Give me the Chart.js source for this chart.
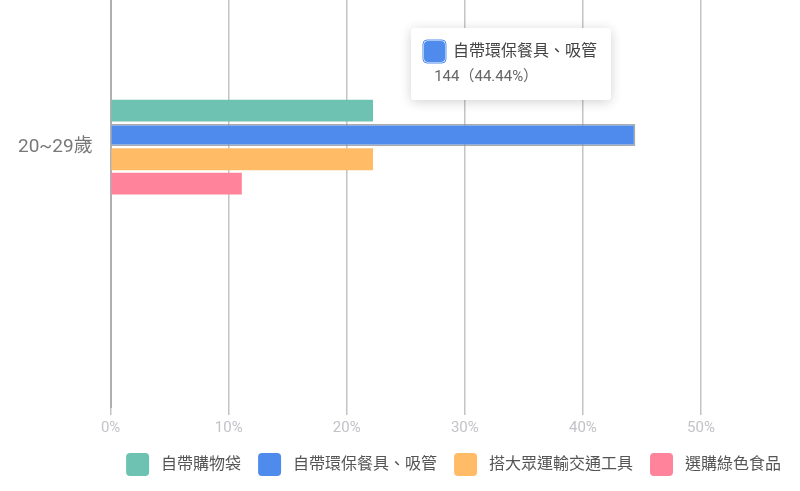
<!DOCTYPE html>
<html>
<head>
<meta charset="utf-8">
<script src="https://cdn.jsdelivr.net/npm/chart.js@4.4.1/dist/chart.umd.min.js"></script>
<style>
  html, body { margin: 0; padding: 0; background: #fff; }
  #wrap { width: 800px; height: 491px; position: relative; }
</style>
</head>
<body>
<div id="wrap"><canvas id="myChart"></canvas></div>
<script>
// categories / series
const ageGroups = ["20~29歲"];
const seriesNames = ["自帶購物袋", "自帶環保餐具、吸管", "搭大眾運輸交通工具", "選購綠色食品"];
const seriesColors = ["#6dc2b1", "#4f8bec", "#ffbb66", "#ff839a"];
const seriesCounts = [72, 144, 72, 36];          // people
const seriesPercent = [22.22, 44.44, 22.22, 11.11]; // % of total
const xTicks = [0, 10, 20, 30, 40, 50];

Chart.defaults.font.family = "Roboto, 'Noto Sans CJK TC', sans-serif";

// custom tooltip position, taken from the event point we pass in
Chart.Tooltip.positioners.fixedPoint = function (items, eventPosition) {
  return { x: eventPosition.x, y: eventPosition.y, xAlign: "center", yAlign: "top" };
};

// soft shadow behind the tooltip box
const tooltipShadow = {
  id: "tooltipShadow",
  beforeTooltipDraw(chart, args) {
    const tt = args.tooltip;
    const c = chart.ctx;
    c.save();
    c.shadowColor = "rgba(0,0,0,0.18)";
    c.shadowBlur = 12;
    c.shadowOffsetY = 2;
    c.fillStyle = "#fff";
    c.beginPath();
    c.roundRect(tt.x, tt.y, tt.width, tt.height, 4);
    c.fill();
    c.restore();
  }
};

// the age axis in the original runs past the top of the canvas,
// so the bar group sits above the middle of the plot
const stretchAgeAxis = {
  id: "stretchAgeAxis",
  afterLayout(chart) {
    const y = chart.scales.y;
    y.top = y.bottom - (y.bottom - y.top) * 1.277;
    y.configure();
  }
};

const ctx = document.getElementById("myChart");

const datasets = seriesNames.map((name, i) => ({
  label: name,
  data: [seriesPercent[i]],
  backgroundColor: seriesColors[i],
  borderWidth: 0,
  hoverBackgroundColor: seriesColors[i],
  hoverBorderColor: "rgba(150,150,150,0.8)",
  hoverBorderWidth: 1.5,
  barPercentage: 0.9,
  categoryPercentage: 0.187
}));

const chart = new Chart(ctx, {
  type: "bar",
  data: {
    labels: ageGroups,
    datasets: datasets
  },
  plugins: [tooltipShadow, stretchAgeAxis],
  options: {
    indexAxis: "y",
    responsive: true,
    maintainAspectRatio: false,
    animation: false,
    events: [],
    layout: {
      padding: { top: 0, left: 0, right: 2, bottom: 5 }
    },
    scales: {
      x: {
        min: 0,
        max: 50,
        afterBuildTicks: (axis) => {
          axis.ticks = xTicks.map((v) => ({ value: v }));
        },
        afterFit: (axis) => {
          axis.paddingRight = 99;
          axis.height -= 5;
        },
        grid: { color: "#c4c4c4", lineWidth: 1.5, tickLength: 8 },
        border: { display: false },
        ticks: {
          color: "#c2c2c8",
          font: { size: 15 },
          padding: 4,
          callback: (v) => v + "%"
        }
      },
      y: {
        afterFit: (axis) => {
          axis.paddingTop = 0;
          axis.paddingBottom = 0;
        },
        grid: { display: false, drawTicks: false },
        border: { display: true, color: "#b0b0b0", width: 2 },
        ticks: {
          color: "#787878",
          font: { size: 19 },
          padding: 18
        }
      }
    },
    plugins: {
      legend: {
        position: "bottom",
        align: "end",
        labels: {
          boxWidth: 23,
          boxHeight: 23,
          useBorderRadius: true,
          borderRadius: 4,
          padding: 17,
          color: "#555",
          font: { size: 16 },
          generateLabels: (c) =>
            Chart.defaults.plugins.legend.labels.generateLabels(c).map((l) => ({
              ...l,
              text: " " + l.text,
              lineWidth: 0
            }))
        }
      },
      tooltip: {
        position: "fixedPoint",
        backgroundColor: "#fff",
        cornerRadius: 4,
        caretSize: 0,
        caretPadding: 0,
        padding: { top: 12, left: 12, right: 14, bottom: 14 },
        displayColors: true,
        boxWidth: 23,
        boxHeight: 23,
        boxPadding: 5,
        bodyColor: "#444",
        bodyFont: { size: 16, weight: "normal" },
        footerColor: "#666",
        footerFont: { size: 15, weight: "normal" },
        footerMarginTop: 5,
        callbacks: {
          title: () => "",
          label: (item) => item.dataset.label,
          labelColor: (item) => ({
            borderColor: seriesColors[item.datasetIndex],
            backgroundColor: seriesColors[item.datasetIndex],
            borderWidth: 1,
            borderRadius: 4
          }),
          footer: (items) => {
            const i = items[0].datasetIndex;
            return "   " + seriesCounts[i] + "（" + seriesPercent[i].toFixed(2) + "%）";
          }
        }
      }
    }
  }
});

const active = [{ datasetIndex: 1, index: 0 }];
chart.setActiveElements(active);
chart.tooltip.setActiveElements(active, { x: 511, y: 28 });
chart.update();
</script>
</body>
</html>
